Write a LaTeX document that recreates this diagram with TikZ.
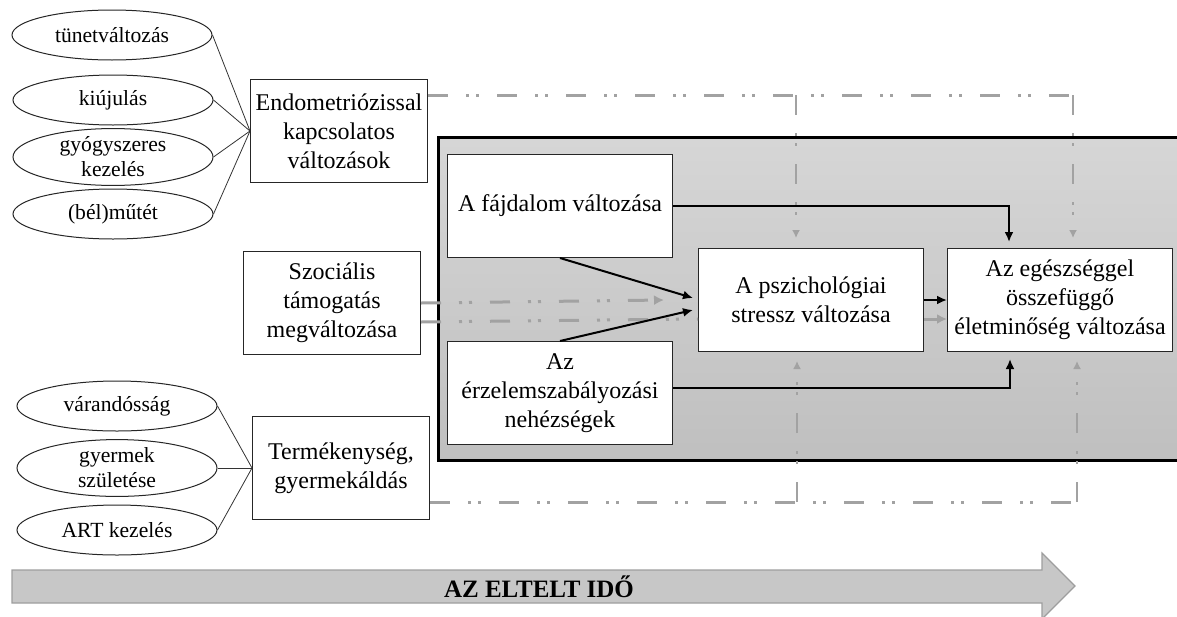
\documentclass[tikz,border=0pt]{standalone}
\usepackage{fontspec}
\setmainfont{Liberation Serif}
\usepackage{xcolor}
\usepackage{tikz}
\usetikzlibrary{calc,positioning,shapes.geometric,arrows.meta}
\definecolor{dashgray}{HTML}{A2A2A2}

\begin{document}
\begin{tikzpicture}[x=0.5pt,y=-0.5pt,
  box/.style={draw=black!85,line width=0.5pt,fill=white,align=center,inner sep=1pt,minimum width=88.5pt,minimum height=51.5pt,font=\fontsize{12}{14.5}\selectfont},
  widebox/.style={box,minimum width=112.5pt},
  factor/.style={ellipse,draw=black!85,line width=0.5pt,fill=white,align=center,minimum width=100pt,minimum height=25pt,inner sep=0pt,font=\fontsize{10.8}{12.5}\selectfont},
  link/.style={draw=black!80,line width=0.4pt},
  effect/.style={line width=1pt,-{Latex[length=5pt,width=4.5pt]}},
  trend/.style={dashgray,line width=1.5pt,dash pattern=on 10pt off 9pt on 1.5pt off 3.5pt on 1.5pt off 9pt},
  drop/.style={dashgray,line width=1pt,dash pattern=on 10pt off 9pt on 1.5pt off 3.5pt on 1.5pt off 9pt,-{Latex[length=4pt,width=4pt]}}]
\useasboundingbox (0,0) rectangle (1177,616);
\newcommand{\factorset}[2]{\foreach \f in {#1} \draw[link] (\f.east) -- (#2.west);}

% time axis
\filldraw[fill=black!22,draw=black!38,line width=0.6pt] (12,570) -- (1042,570) -- (1042,553) -- (1075,586) -- (1042,619) -- (1042,603) -- (12,603) -- cycle;
\node[font=\bfseries\fontsize{12.5}{14}\selectfont] (ido) at (539,587) {AZ ELTELT IDŐ};

% gray frame
\shade[top color=black!16,bottom color=black!25] (438,137) rectangle (1177,460);
\draw[line width=1.5pt] (1177,137) -- (438,137) -- (438,460) -- (1177,460);

% outer factors
\node[factor] (tunet) at (112,35) {tünetváltozás};
\node[factor] (kiuj) at (113,100) {kiújulás};
\node[factor] (gyogy) at (113,157) {gyógyszeres\\kezelés};
\node[factor] (mutet) at (113,214) {(bél)műtét};
\node[factor] (varand) at (117,406) {várandósság};
\node[factor] (gyermek) at (117,468) {gyermek\\születése};
\node[factor] (art) at (117,530) {ART kezelés};

\node[box] (endo) at (339,131) {Endometriózissal\\kapcsolatos\\változások};
\node[box] (soc) at (332,303) {Szociális\\támogatás\\megváltozása};
\node[box] (term) at (341,468) {Termékenység,\\gyermekáldás};

\factorset{tunet,kiuj,gyogy,mutet}{endo}
\factorset{varand,gyermek,art}{term}

% inner model
\node[widebox] (fajd) at (560,206) {A fájdalom változása};
\node[widebox] (erz) at (560,393) {Az\\érzelemszabályozási\\nehézségek};
\node[widebox] (psz) at (811,300) {A pszichológiai\\stressz változása};
\node[widebox] (egesz) at (1060,300) {Az egészséggel\\összefüggő\\életminőség változása};

% gray dash lines
\coordinate (tA) at (796,95);
\coordinate (tB) at (1073,95);
\coordinate (bA) at (797,502);
\coordinate (bB) at (1077,502);
\draw[trend] (endo.east |- tB) -- (tB);
\draw[drop,shorten >=5pt] (tA) -- (tA |- psz.north);
\draw[drop,shorten >=5pt] (tB) -- (tB |- egesz.north);
\draw[trend] (term.east |- bB) -- (bB);
\draw[drop,shorten >=4.5pt] (bA) -- (bA |- psz.south);
\draw[drop,shorten >=4.5pt] (bB) -- (bB |- egesz.south);
\draw[trend,-{Latex[length=5pt,width=5pt]}] (soc.east) -- ($(psz.west)+(-34,0)$);
\draw[trend] ($(soc.east)+(0,19)$) -- ($(psz.west)+(0,19)$);
\draw[dashgray,line width=1.5pt,-{Latex[length=5pt,width=5pt]}] ($(psz.east)+(0,19)$) -- ($(egesz.west)+(0,19)$);

% effects
\draw[effect] (fajd.east) -| ($(egesz.north)+(-51,-6)$);
\draw[effect] ($(erz.east)+(0,-5)$) -| ($(egesz.south)+(-50,7)$);
\draw[effect] (fajd.south) -- ($(psz.west)+(-5,-2)$);
\draw[effect] (erz.north) -- ($(psz.west)+(-5,10)$);
\draw[effect] (psz.east) -- (egesz.west);
\end{tikzpicture}
\end{document}
